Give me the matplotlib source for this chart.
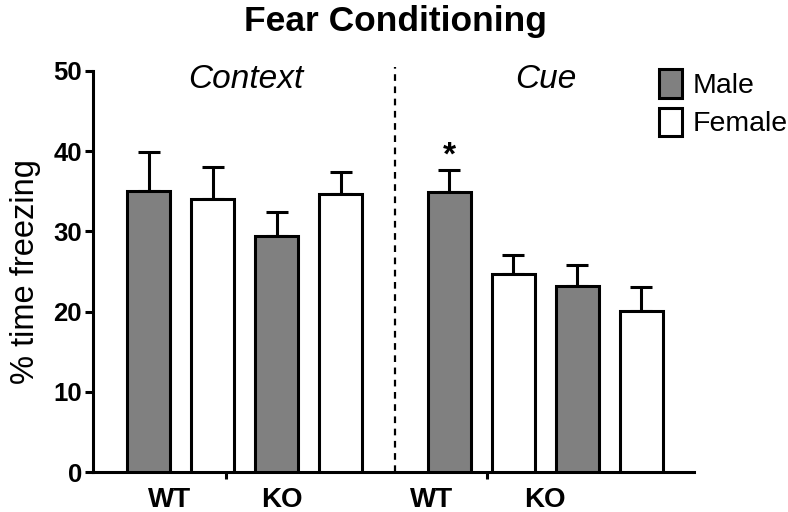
import numpy as np
import matplotlib.pyplot as plt
from matplotlib.transforms import blended_transform_factory

plt.rcParams['font.family'] = ['Liberation Sans', 'DejaVu Sans']

# Valori
phases = ['Context', 'Cue']
genotypes = ['WT', 'KO', 'WT', 'KO']
male_mean = [35.0, 29.4, 34.9, 23.2]
male_sem = [4.9, 3.0, 2.7, 2.6]
female_mean = [34.1, 34.7, 24.7, 20.1]
female_sem = [3.9, 2.7, 2.3, 3.0]

# Pozitii bare (unitati ~ distanta dintre bare)
male_x = np.array([0.0, 2.0, 4.69, 6.69])
female_x = male_x + 1.0
bar_w = 0.67

fig = plt.figure(figsize=(7.88, 5.12), dpi=100)
ax = fig.add_axes([93 / 788, 40 / 512, (694 - 93) / 788, (472 - 71) / 512])

err_kw = dict(lw=2.2, capsize=8, capthick=2.2, ecolor='black')
ax.bar(male_x, male_mean, bar_w, color='#808080', edgecolor='black', linewidth=2.2,
       label='Male', zorder=3)
ax.bar(female_x, female_mean, bar_w, color='white', edgecolor='black', linewidth=2.2,
       label='Female', zorder=3)
ax.errorbar(male_x, male_mean, yerr=[np.zeros(4), male_sem], fmt='none', zorder=2, **err_kw)
ax.errorbar(female_x, female_mean, yerr=[np.zeros(4), female_sem], fmt='none', zorder=2, **err_kw)

# Axe
ax.set_xlim(-0.87, 8.51)
ax.set_ylim(0, 50)
ax.set_yticks(np.arange(0, 51, 10))
ax.set_xticks([1.21, 5.28])
ax.set_xticklabels([])
for side in ['top', 'right']:
    ax.spines[side].set_visible(False)
for side in ['left', 'bottom']:
    ax.spines[side].set_linewidth(2.2)
ax.tick_params(axis='y', direction='out', length=6, width=2.2, labelsize=18.5, pad=2)
ax.tick_params(axis='x', direction='out', length=5, width=2.2)
for lab in ax.get_yticklabels():
    lab.set_fontweight('bold')
ax.set_ylabel('% time freezing', fontsize=23.5, labelpad=9)

# Etichete genotip
trans = blended_transform_factory(ax.transData, ax.transAxes)
label_x = [0.33, 2.08, 4.42, 6.18]
for x, g in zip(label_x, genotypes):
    ax.text(x, -0.07, g, transform=trans, ha='center', va='center',
            fontsize=20, fontweight='bold')

# Linie punctata intre faze
ax.plot([3.84, 3.84], [0, 50.5], ls=(0, (3, 2.5)), color='black', lw=1.6, clip_on=False)
ax.text(1.52, 49.0, phases[0], ha='center', va='center', fontsize=24, style='italic')
ax.text(6.2, 49.0, phases[1], ha='center', va='center', fontsize=24, style='italic')

# Asterisc
ax.text(male_x[2], 39.4, '*', ha='center', va='center', fontsize=24, fontweight='bold')

# Legenda
ax.legend(loc='upper left', bbox_to_anchor=(648 / 788, 1 - 58 / 512),
          bbox_transform=fig.transFigure, frameon=False, fontsize=20.5,
          handlelength=0.8, handleheight=1.15, handletextpad=0.35, labelspacing=0.3,
          borderaxespad=0)

fig.text(395 / 788, 1 - 21 / 512, 'Fear Conditioning', ha='center', va='center',
         fontsize=25.5, fontweight='bold')

fig.savefig('out.png', dpi=100)
